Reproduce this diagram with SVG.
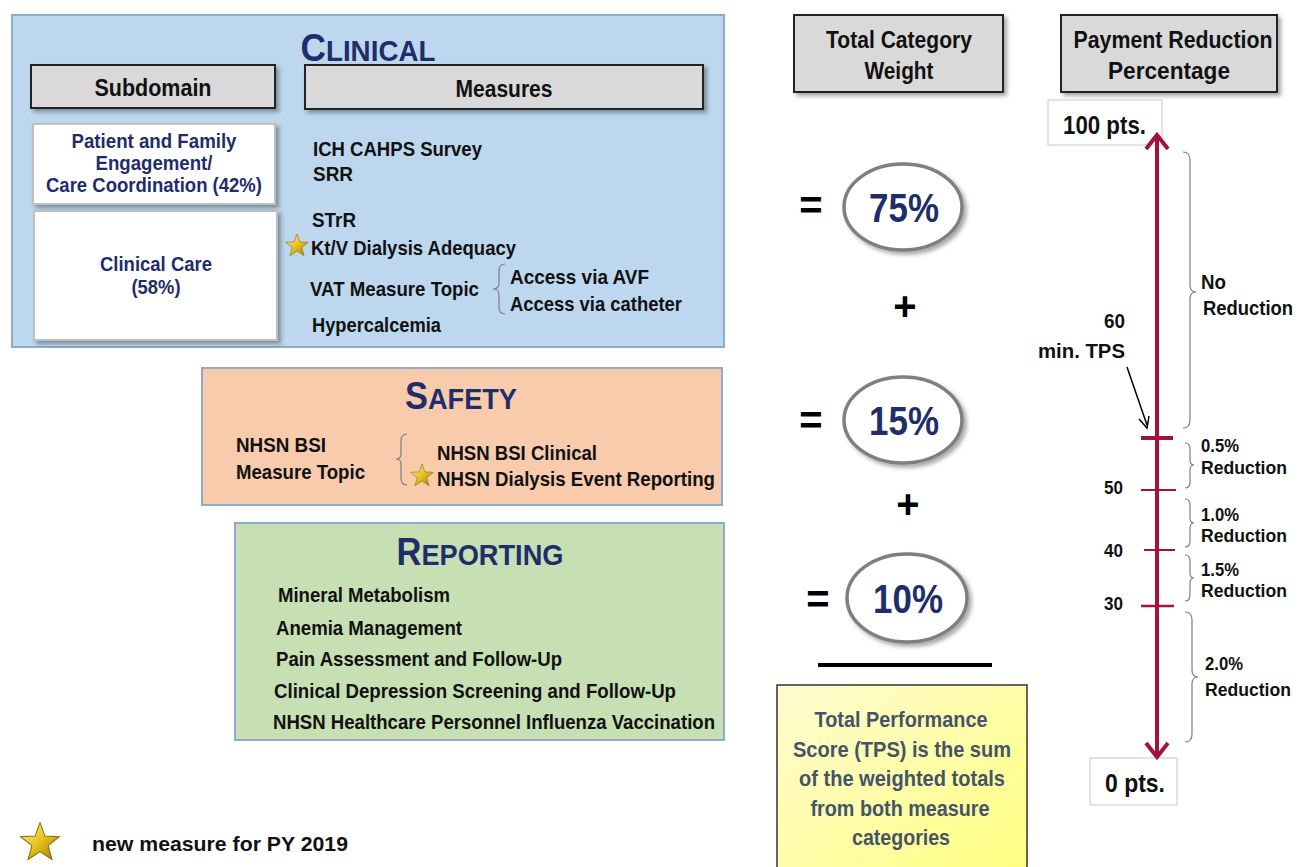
<svg xmlns="http://www.w3.org/2000/svg" width="1299" height="867" viewBox="0 0 1299 867">
<defs>
<style>
text{font-family:"Liberation Sans","Arial Narrow",Arial,sans-serif;font-weight:bold;}
.blk{fill:#111;font-size:21px;}
.navy{fill:#1f2d6b;font-size:20px;}
.hdr{fill:#d9d9d9;stroke:#222;stroke-width:2;}
.hdrt{font-size:23px;fill:#111;text-anchor:middle;}
.sub{fill:#fff;stroke:#bfbfbf;stroke-width:2;}
.brace{fill:none;stroke:#7f7f7f;stroke-width:1.2;}
.ell{fill:#fff;stroke:#7f7f7f;stroke-width:3.5;}
.pct{font-size:41px;fill:#1f2d6b;text-anchor:middle;}
.eq{font-size:40px;fill:#000;text-anchor:middle;}
.red{stroke:#a3123e;fill:none;}
.tick{font-size:18px;fill:#111;}
.rl{font-size:20px;fill:#111;}
.rs{font-size:19px;fill:#111;}
.ttl1{font-size:38px;fill:#1f2d6b;}
.ttl2{font-size:30px;fill:#1f2d6b;}
.tps{font-size:22px;fill:#44546a;text-anchor:middle;}
</style>
<filter id="sh" x="-10%" y="-10%" width="125%" height="135%">
<feDropShadow dx="3" dy="3" stdDeviation="2" flood-color="#000" flood-opacity="0.35"/>
</filter>
<linearGradient id="starg" x1="0" y1="0" x2="1" y2="1">
<stop offset="0" stop-color="#fff3a0"/>
<stop offset="0.5" stop-color="#e8c21e"/>
<stop offset="1" stop-color="#9c7a05"/>
</linearGradient>
<linearGradient id="yel" x1="0" y1="0" x2="1" y2="1">
<stop offset="0" stop-color="#fffbd0"/>
<stop offset="1" stop-color="#ffff80"/>
</linearGradient>
<polygon id="star" points="0,-12 2.94,-4.05 11.41,-3.71 4.76,1.55 7.05,9.71 0,5 -7.05,9.71 -4.76,1.55 -11.41,-3.71 -2.94,-4.05" fill="url(#starg)" stroke="#8a6d00" stroke-width="0.6"/>
</defs>
<rect width="1299" height="867" fill="#fff"/>

<g id="clinical">
<rect x="12" y="15" width="712" height="332" fill="#bdd7ee" stroke="#8faacc" stroke-width="2"/>
<text x="368" y="61" text-anchor="middle" textLength="135" lengthAdjust="spacingAndGlyphs"><tspan class="ttl1">C</tspan><tspan class="ttl2">LINICAL</tspan></text>
<g id="subdomain-hdr"><rect class="hdr" x="31" y="65" width="244" height="43" filter="url(#sh)"/><text class="hdrt" x="153" y="96" textLength="117" lengthAdjust="spacingAndGlyphs">Subdomain</text></g>
<g id="measures-hdr"><rect class="hdr" x="305" y="65" width="398" height="44" filter="url(#sh)"/><text class="hdrt" x="504" y="97" textLength="97" lengthAdjust="spacingAndGlyphs">Measures</text></g>
<g id="pfe"><rect class="sub" x="33" y="124" width="242" height="80" filter="url(#sh)"/>
<text class="navy" text-anchor="middle" x="154" y="148" textLength="165" lengthAdjust="spacingAndGlyphs">Patient and Family</text>
<text class="navy" text-anchor="middle" x="154" y="170" textLength="117" lengthAdjust="spacingAndGlyphs">Engagement/</text>
<text class="navy" text-anchor="middle" x="154" y="192" textLength="216" lengthAdjust="spacingAndGlyphs">Care Coordination (42%)</text></g>
<g id="clinical-care"><rect class="sub" x="34" y="211" width="243" height="129" filter="url(#sh)"/>
<text class="navy" text-anchor="middle" x="156" y="271" textLength="112" lengthAdjust="spacingAndGlyphs">Clinical Care</text>
<text class="navy" text-anchor="middle" x="156" y="294" textLength="49" lengthAdjust="spacingAndGlyphs">(58%)</text></g>
<g id="clinical-measures" class="blk">
<text class="blk" x="313" y="156" textLength="169" lengthAdjust="spacingAndGlyphs">ICH CAHPS Survey</text>
<text class="blk" x="313" y="181" textLength="40" lengthAdjust="spacingAndGlyphs">SRR</text>
<text class="blk" x="312" y="227" textLength="44" lengthAdjust="spacingAndGlyphs">STrR</text>
<text class="blk" x="311" y="255" textLength="205" lengthAdjust="spacingAndGlyphs">Kt/V Dialysis Adequacy</text>
<text class="blk" x="310" y="296" textLength="169" lengthAdjust="spacingAndGlyphs">VAT Measure Topic</text>
<text class="blk" x="510" y="284" textLength="139" lengthAdjust="spacingAndGlyphs">Access via AVF</text>
<text class="blk" x="510" y="311" textLength="172" lengthAdjust="spacingAndGlyphs">Access via catheter</text>
<text class="blk" x="312" y="332" textLength="129" lengthAdjust="spacingAndGlyphs">Hypercalcemia</text>
</g>
<use href="#star" x="297" y="246"/>
<path class="brace" d="M505,264 Q499,264 499,271 L499,283 Q499,289 493,289 Q499,289 499,295 L499,307 Q499,314 505,314"/>
</g>

<g id="safety">
<rect x="202" y="368" width="520" height="137" fill="#f8cbad" stroke="#8faacc" stroke-width="2"/>
<text x="461" y="409" text-anchor="middle" textLength="112" lengthAdjust="spacingAndGlyphs"><tspan class="ttl1">S</tspan><tspan class="ttl2">AFETY</tspan></text>
<text class="blk" x="236" y="452" textLength="90" lengthAdjust="spacingAndGlyphs">NHSN BSI</text>
<text class="blk" x="236" y="479" textLength="129" lengthAdjust="spacingAndGlyphs">Measure Topic</text>
<text class="blk" x="437" y="460" textLength="160" lengthAdjust="spacingAndGlyphs">NHSN BSI Clinical</text>
<text class="blk" x="437" y="486" textLength="278" lengthAdjust="spacingAndGlyphs">NHSN Dialysis Event Reporting</text>
<path class="brace" d="M407,434 Q401,434 401,441 L401,454 Q401,459 396,459 Q401,459 401,464 L401,478 Q401,485 407,485"/>
<use href="#star" x="422" y="476"/>
</g>

<g id="reporting">
<rect x="235" y="523" width="489" height="217" fill="#c6e0b4" stroke="#8faacc" stroke-width="2"/>
<text x="480" y="565" text-anchor="middle" textLength="167" lengthAdjust="spacingAndGlyphs"><tspan class="ttl1">R</tspan><tspan class="ttl2">EPORTING</tspan></text>
<text class="blk" x="278" y="602" textLength="172" lengthAdjust="spacingAndGlyphs">Mineral Metabolism</text>
<text class="blk" x="276" y="635" textLength="186" lengthAdjust="spacingAndGlyphs">Anemia Management</text>
<text class="blk" x="276" y="666" textLength="286" lengthAdjust="spacingAndGlyphs">Pain Assessment and Follow-Up</text>
<text class="blk" x="274" y="698" textLength="402" lengthAdjust="spacingAndGlyphs">Clinical Depression Screening and Follow-Up</text>
<text class="blk" x="273" y="729" textLength="442" lengthAdjust="spacingAndGlyphs">NHSN Healthcare Personnel Influenza Vaccination</text>
</g>

<g id="weight-hdr"><rect class="hdr" x="794" y="15" width="209" height="77" filter="url(#sh)"/>
<text class="hdrt" x="899" y="48" textLength="146" lengthAdjust="spacingAndGlyphs">Total Category</text>
<text class="hdrt" x="899" y="79" textLength="69" lengthAdjust="spacingAndGlyphs">Weight</text></g>
<g id="payment-hdr"><rect class="hdr" x="1061" y="15" width="216" height="77" filter="url(#sh)"/>
<text class="hdrt" x="1173" y="48" textLength="199" lengthAdjust="spacingAndGlyphs">Payment Reduction</text>
<text class="hdrt" x="1169" y="79" textLength="122" lengthAdjust="spacingAndGlyphs">Percentage</text></g>

<g id="w75"><text class="eq" x="811" y="219">=</text><ellipse class="ell" cx="903" cy="207" rx="59" ry="43" filter="url(#sh)"/><text class="pct" x="904" y="222" textLength="70" lengthAdjust="spacingAndGlyphs">75%</text></g>
<text class="eq" x="905" y="320">+</text>
<g id="w15"><text class="eq" x="811" y="434">=</text><ellipse class="ell" cx="903" cy="420" rx="59" ry="43" filter="url(#sh)"/><text class="pct" x="904" y="435" textLength="70" lengthAdjust="spacingAndGlyphs">15%</text></g>
<text class="eq" x="908" y="518">+</text>
<g id="w10"><text class="eq" x="818" y="613">=</text><ellipse class="ell" cx="907" cy="598" rx="60" ry="44" filter="url(#sh)"/><text class="pct" x="908" y="613" textLength="70" lengthAdjust="spacingAndGlyphs">10%</text></g>
<line x1="818" y1="665" x2="992" y2="665" stroke="#000" stroke-width="4"/>
<g id="tps-box"><rect x="777" y="685" width="250" height="190" fill="url(#yel)" stroke="#333" stroke-width="1.5"/>
<text class="tps" x="901" y="727" textLength="173" lengthAdjust="spacingAndGlyphs">Total Performance</text>
<text class="tps" x="902" y="757" textLength="218" lengthAdjust="spacingAndGlyphs">Score (TPS) is the sum</text>
<text class="tps" x="902" y="786" textLength="206" lengthAdjust="spacingAndGlyphs">of the weighted totals</text>
<text class="tps" x="900" y="816" textLength="179" lengthAdjust="spacingAndGlyphs">from both measure</text>
<text class="tps" x="901" y="845" textLength="98" lengthAdjust="spacingAndGlyphs">categories</text></g>

<g id="scale">
<g id="pts100"><rect x="1048" y="100" width="114" height="45" fill="#fff" stroke="#c8c8c8"/><text font-size="25" fill="#111" x="1063" y="134" textLength="83" lengthAdjust="spacingAndGlyphs">100 pts.</text></g>
<g id="pts0"><rect x="1090" y="758" width="87" height="47" fill="#fff" stroke="#c8c8c8"/><text font-size="25" fill="#111" x="1105" y="792" textLength="60" lengthAdjust="spacingAndGlyphs">0 pts.</text></g>
<g id="axis">
<line class="red" x1="1157" y1="136" x2="1157" y2="756" stroke-width="4"/>
<polyline class="red" points="1146,149 1157,135 1168,149" stroke-width="4"/>
<polyline class="red" points="1146,743 1157,757 1168,743" stroke-width="4"/>
<line class="red" x1="1141" y1="438" x2="1173" y2="438" stroke-width="4"/>
<line class="red" x1="1141" y1="490" x2="1176" y2="490" stroke-width="2"/>
<line class="red" x1="1144" y1="550" x2="1175" y2="550" stroke-width="2"/>
<line class="red" x1="1141" y1="606" x2="1174" y2="606" stroke-width="2.5"/>
</g>
<text class="tick" x="1104" y="494" textLength="19" lengthAdjust="spacingAndGlyphs">50</text>
<text class="tick" x="1104" y="557" textLength="19" lengthAdjust="spacingAndGlyphs">40</text>
<text class="tick" x="1104" y="610" textLength="19" lengthAdjust="spacingAndGlyphs">30</text>
<text class="rl" text-anchor="end" x="1125" y="328" textLength="21" lengthAdjust="spacingAndGlyphs">60</text>
<text class="rl" text-anchor="end" x="1125" y="358" textLength="87" lengthAdjust="spacingAndGlyphs">min. TPS</text>
<g id="min-arrow">
<line x1="1127" y1="367" x2="1147" y2="425" stroke="#000" stroke-width="1.5"/>
<polyline points="1139,419 1147,428 1149,416" fill="none" stroke="#000" stroke-width="1.5"/>
</g>
<g class="brace">
<path d="M1183,152 Q1190,152 1190,160 L1190,285 Q1190,292 1196,292 Q1190,292 1190,299 L1190,420 Q1190,428 1183,428"/>
<path d="M1185,443 Q1190,443 1190,449 L1190,460 Q1190,465 1194,465 Q1190,465 1190,470 L1190,482 Q1190,488 1185,488"/>
<path d="M1185,499 Q1190,499 1190,505 L1190,518 Q1190,523 1194,523 Q1190,523 1190,528 L1190,541 Q1190,547 1185,547"/>
<path d="M1185,555 Q1190,555 1190,561 L1190,573 Q1190,578 1194,578 Q1190,578 1190,583 L1190,595 Q1190,601 1185,601"/>
<path d="M1185,612 Q1192,612 1192,620 L1192,670 Q1192,677 1198,677 Q1192,677 1192,684 L1192,734 Q1192,742 1185,742"/>
</g>
<text class="rl" x="1201" y="289" textLength="25" lengthAdjust="spacingAndGlyphs">No</text>
<text class="rl" x="1203" y="315" textLength="90" lengthAdjust="spacingAndGlyphs">Reduction</text>
<text class="rs" x="1201" y="452" textLength="38" lengthAdjust="spacingAndGlyphs">0.5%</text>
<text class="rs" x="1201" y="474" textLength="86" lengthAdjust="spacingAndGlyphs">Reduction</text>
<text class="rs" x="1201" y="521" textLength="38" lengthAdjust="spacingAndGlyphs">1.0%</text>
<text class="rs" x="1201" y="542" textLength="86" lengthAdjust="spacingAndGlyphs">Reduction</text>
<text class="rs" x="1201" y="576" textLength="38" lengthAdjust="spacingAndGlyphs">1.5%</text>
<text class="rs" x="1201" y="597" textLength="86" lengthAdjust="spacingAndGlyphs">Reduction</text>
<text class="rs" x="1205" y="670" textLength="38" lengthAdjust="spacingAndGlyphs">2.0%</text>
<text class="rs" x="1205" y="696" textLength="86" lengthAdjust="spacingAndGlyphs">Reduction</text>
</g>

<g id="legend">
<use href="#star" transform="translate(40,843) scale(1.7)"/>
<text x="92" y="851" font-family="'Open Sans','Liberation Sans',sans-serif" font-weight="600" font-size="21" fill="#111" textLength="256" lengthAdjust="spacingAndGlyphs">new measure for PY 2019</text>
</g>
</svg>
